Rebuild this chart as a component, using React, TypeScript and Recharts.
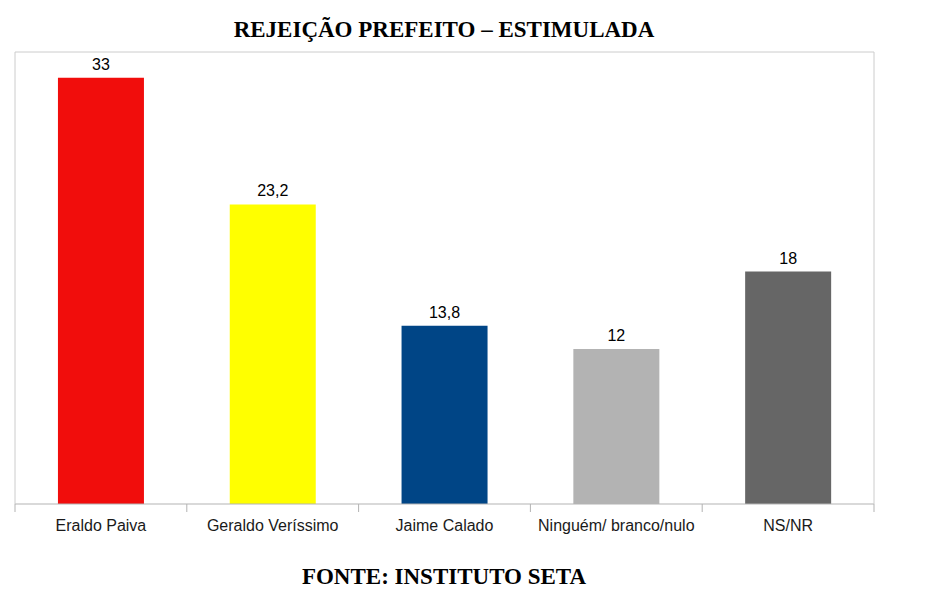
import { BarChart, Bar, XAxis, YAxis, Cell, LabelList, ReferenceLine } from 'recharts';

const categories = ['Eraldo Paiva', 'Geraldo Veríssimo', 'Jaime Calado', 'Ninguém/ branco/nulo', 'NS/NR'];
const values = [33, 23.2, 13.8, 12, 18];
const barColors = ['#f10d0c', '#ffff00', '#004586', '#b3b3b3', '#666666'];
const yDomain = [0, 35];

const data = categories.map((name, i) => ({ name, value: values[i] }));

const W = 942;
const H = 607;
// y axes are 1px wide each, so the plot runs from x=15 to x=874
const margin = { top: 52, right: 67, left: 14, bottom: 0 };
const bandWidth = (W - margin.left - margin.right - 2) / categories.length;

function CategoryTick({ x, y, payload, index }: any) {
  const last = index === categories.length - 1;
  return (
    <g>
      <line x1={x - bandWidth / 2} y1={y} x2={x - bandWidth / 2} y2={y + 8} stroke="#b3b3b3" />
      {last && <line x1={x + bandWidth / 2} y1={y} x2={x + bandWidth / 2} y2={y + 8} stroke="#b3b3b3" />}
      <text x={x} y={y + 27} textAnchor="middle" fontSize={16} fill="#1a1a1a" fontFamily="Liberation Sans, Arial, sans-serif">
        {payload.value}
      </text>
    </g>
  );
}

const headStyle: any = {
  position: 'absolute',
  left: 0,
  width: 888,
  textAlign: 'center',
  fontFamily: '"Liberation Serif", "Times New Roman", serif',
  fontWeight: 'bold',
  fontSize: 23,
  lineHeight: '23px',
  color: '#000',
  whiteSpace: 'nowrap',
};

export default function App() {
  return (
    <div style={{ position: 'absolute', left: 0, top: 0, width: W, height: H, background: '#fff' }}>
      <div style={{ ...headStyle, top: 18 }}>REJEIÇÃO PREFEITO – ESTIMULADA</div>
      <BarChart width={W} height={H} data={data} margin={margin} barCategoryGap="25%">
        <XAxis
          dataKey="name"
          interval={0}
          height={103}
          tickSize={0}
          tickMargin={0}
          tickLine={false}
          axisLine={{ stroke: '#b3b3b3' }}
          tick={<CategoryTick />}
        />
        <YAxis yAxisId="l" domain={yDomain} width={1} tick={false} tickLine={false} axisLine={{ stroke: '#cccccc' }} />
        <YAxis yAxisId="r" orientation="right" domain={yDomain} width={1} tick={false} tickLine={false} axisLine={{ stroke: '#cccccc' }} />
        <ReferenceLine yAxisId="l" y={35} stroke="#cccccc" />
        <Bar yAxisId="l" dataKey="value" isAnimationActive={false}>
          {data.map((d, i) => (
            <Cell key={d.name} fill={barColors[i]} />
          ))}
          <LabelList
            dataKey="value"
            position="top"
            offset={8}
            fontSize={16}
            fill="#000"
            fontFamily="Liberation Sans, Arial, sans-serif"
            formatter={(v: any) => String(v).replace('.', ',')}
          />
        </Bar>
      </BarChart>
      <div style={{ ...headStyle, top: 565 }}>FONTE: INSTITUTO SETA</div>
    </div>
  );
}
